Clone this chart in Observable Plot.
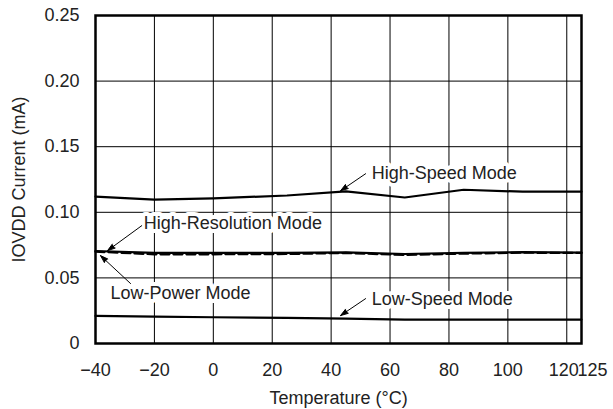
<!DOCTYPE html>
<html><head><meta charset="utf-8">
<script src="https://cdn.jsdelivr.net/npm/d3@7"></script>
<script src="https://cdn.jsdelivr.net/npm/@observablehq/plot@0.6"></script>
<style>body{margin:0;background:#fff}</style>
</head><body><div id="chart"></div>
<script>
// Data
const temps = [-40, -20, 0, 25, 45, 65, 85, 105, 125];
const highSpeed = [0.1120, 0.1097, 0.1106, 0.1128, 0.1160, 0.1113, 0.1172, 0.1157, 0.1157];
const lowPower  = [0.0705, 0.0690, 0.0690, 0.0690, 0.0695, 0.0682, 0.0690, 0.0697, 0.0692];
const highRes   = [0.0700, 0.0680, 0.0680, 0.0682, 0.0690, 0.0675, 0.0685, 0.0692, 0.0690];
const lowSpeed  = [0.0210, 0.0205, 0.0200, 0.0195, 0.0190, 0.0182, 0.0182, 0.0182, 0.0182];

const seriesNames = ["High-Speed Mode", "Low-Power Mode", "High-Resolution Mode", "Low-Speed Mode"];
const seriesValues = [highSpeed, lowPower, highRes, lowSpeed];
const seriesDashed = [false, false, true, false];

const xTicksMain = [-40, -20, 0, 20, 40, 60, 80, 100];
const xTick120 = [120];
const xTick125 = [125];
const xGrid = [-20, 0, 20, 40, 60, 80, 100, 120];
const yTicks = [0, 0.05, 0.10, 0.15, 0.20, 0.25];
const yGrid = [0.05, 0.10, 0.15, 0.20];

// Annotations (data coordinates)
const annoText = ["High-Speed Mode", "High-Resolution Mode", "Low-Power Mode", "Low-Speed Mode"];
const annoX = [53.8, -23.6, -34.9, 53.8];
const annoY = [0.1300, 0.0913, 0.0380, 0.0335];
const arrowX1 = [51.7, -24.3, -28.1, 51.7];
const arrowY1 = [0.1294, 0.0898, 0.0457, 0.0342];
const arrowX2 = [43.2, -35.9, -38.3, 43.2];
const arrowY2 = [0.1164, 0.0708, 0.0670, 0.0213];

const rows = [];
seriesNames.forEach((name, s) => temps.forEach((t, i) => rows.push({series: name, dashed: seriesDashed[s], t, v: seriesValues[s][i]})));
const annos = annoText.map((text, i) => ({text, x: annoX[i], y: annoY[i]}));
const arrows = annoText.map((text, i) => ({x1: arrowX1[i], y1: arrowY1[i], x2: arrowX2[i], y2: arrowY2[i]}));

const fillArrow = (index, scales, values, dims, context, next) => {
  const g = next(index, scales, values, dims, context);
  d3.select(g).selectAll("path").attr("fill", "black");
  return g;
};

const tickOpts = {tickSize: 0, tickPadding: 20, fill: "#222"};

const chart = Plot.plot({
  width: 613,
  height: 409,
  marginLeft: 95,
  marginRight: 32,
  marginTop: 15,
  marginBottom: 66,
  style: {fontFamily: "'Liberation Sans', Arial, sans-serif", fontSize: "18px", color: "#222", background: "white"},
  x: {domain: [-40, 125]},
  y: {domain: [0, 0.25]},
  marks: [
    Plot.ruleX(xGrid, {stroke: "#000", strokeWidth: 1}),
    Plot.ruleY(yGrid, {stroke: "#000", strokeWidth: 1}),
    Plot.axisX(xTicksMain, {...tickOpts, label: "Temperature (°C)", labelAnchor: "center", labelArrow: "none", labelOffset: 60}),
    Plot.axisX(xTick120, {...tickOpts, dx: -3, label: null}),
    Plot.axisX(xTick125, {...tickOpts, dx: 11, label: null}),
    Plot.axisY(yTicks, {tickSize: 0, tickPadding: 16, fill: "#222", tickFormat: d => d === 0 ? "0" : d.toFixed(2), label: "IOVDD Current (mA)", labelAnchor: "center", labelArrow: "none", labelOffset: 83}),
    Plot.text(annos, {x: "x", y: "y", text: "text", textAnchor: "start", fontSize: 18, fill: "#222", stroke: "white", strokeWidth: 8}),
    Plot.line(rows.filter(d => !d.dashed), {x: "t", y: "v", z: "series", stroke: "#000", strokeWidth: 2.2}),
    Plot.line(rows.filter(d => d.dashed), {x: "t", y: "v", z: "series", stroke: "#000", strokeWidth: 2.2, strokeDasharray: "9,4"}),
    Plot.arrow(arrows, {x1: "x1", y1: "y1", x2: "x2", y2: "y2", stroke: "#000", strokeWidth: 1, headLength: 12, headAngle: 36, render: fillArrow}),
    Plot.frame({stroke: "#000", strokeWidth: 2.5})
  ]
});
document.getElementById("chart").appendChild(chart);
</script>
</body></html>
